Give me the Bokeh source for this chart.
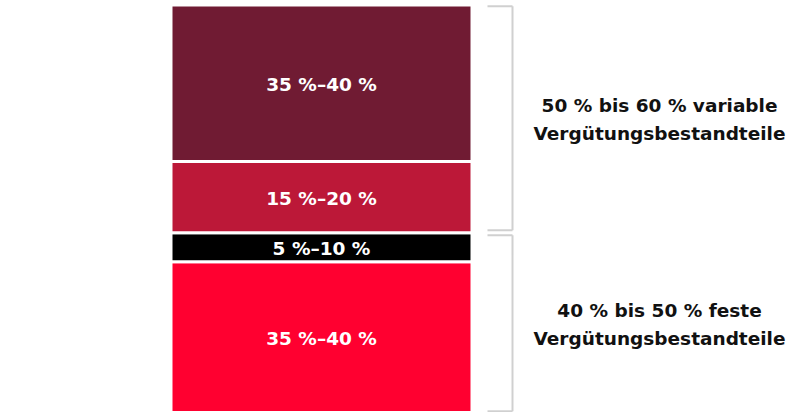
from bokeh.plotting import figure
from bokeh.models import Range1d, ColumnDataSource
from bokeh.core.properties import value
from bokeh.embed import file_html
from bokeh.resources import INLINE
import numpy as np

# Data (bottom to top)
segments = ["Fest", "Mitte", "Variabel kurz", "Variabel lang"]
values = [37.0, 7.1, 17.5, 38.4]
labels = ["35 %–40 %", "5 %–10 %", "15 %–20 %", "35 %–40 %"]
colors = ["#FF0030", "#000000", "#BC1838", "#701B33"]

group_line1 = ["40 % bis 50 % feste", "50 % bis 60 % variable"]
group_line2 = ["Vergütungsbestandteile", "Vergütungsbestandteile"]
group_members = [[0, 1], [2, 3]]

FONT = "DejaVu Sans"

tops = list(np.cumsum(values))
bottoms = [t - v for t, v in zip(tops, values)]
mids = [(t + b) / 2 for t, b in zip(tops, bottoms)]

W, H = 791, 412
p = figure(width=W, height=H, x_range=Range1d(0, W), y_range=Range1d(0, 101.1),
           output_backend="svg", toolbar_location=None, min_border=0)
p.axis.visible = False
p.grid.visible = False
p.outline_line_color = None
p.background_fill_color = "white"

bar_x = 321
bar_w = 301
src = ColumnDataSource(dict(x=[bar_x] * len(values), bottom=bottoms, top=tops,
                            color=colors, label=labels, mid=mids))
p.vbar(x="x", width=bar_w, bottom="bottom", top="top", fill_color="color",
       line_color="white", line_width=3, source=src)
p.text(x="x", y="mid", text="label", source=src, y_offset=1, text_color="white",
       text_font=value(FONT), text_font_style="bold", text_font_size="18.5px",
       text_align="center", text_baseline="middle")

# brackets
bx = 512
tick = 25
g_lo, g_hi = [], []
for m in group_members:
    lo = bottoms[m[0]]
    hi = tops[m[-1]]
    g_lo.append(lo + (0.6 if lo > 0 else 0.3))
    g_hi.append(hi - (0.6 if hi < 100 else 0.3))
gsrc = ColumnDataSource(dict(lo=g_lo, hi=g_hi, mid=[(a + b) / 2 for a, b in zip(g_lo, g_hi)],
                             l1=group_line1, l2=group_line2,
                             bx=[bx] * 2, tx=[bx - tick] * 2, cx=[659] * 2))
p.segment(x0="bx", y0="lo", x1="bx", y1="hi", source=gsrc, line_color="#D0D0D0", line_width=2)
p.segment(x0="tx", y0="lo", x1="bx", y1="lo", source=gsrc, line_color="#D0D0D0", line_width=2)
p.segment(x0="tx", y0="hi", x1="bx", y1="hi", source=gsrc, line_color="#D0D0D0", line_width=2)
p.text(x="cx", y="mid", text="l1", source=gsrc, y_offset=-13, text_color="#111111",
       text_font=value(FONT), text_font_style="bold", text_font_size="18.5px",
       text_align="center", text_baseline="middle")
p.text(x="cx", y="mid", text="l2", source=gsrc, y_offset=15, text_color="#111111",
       text_font=value(FONT), text_font_style="bold", text_font_size="18.5px",
       text_align="center", text_baseline="middle")

open("out.html", "w").write(file_html(p, INLINE))
